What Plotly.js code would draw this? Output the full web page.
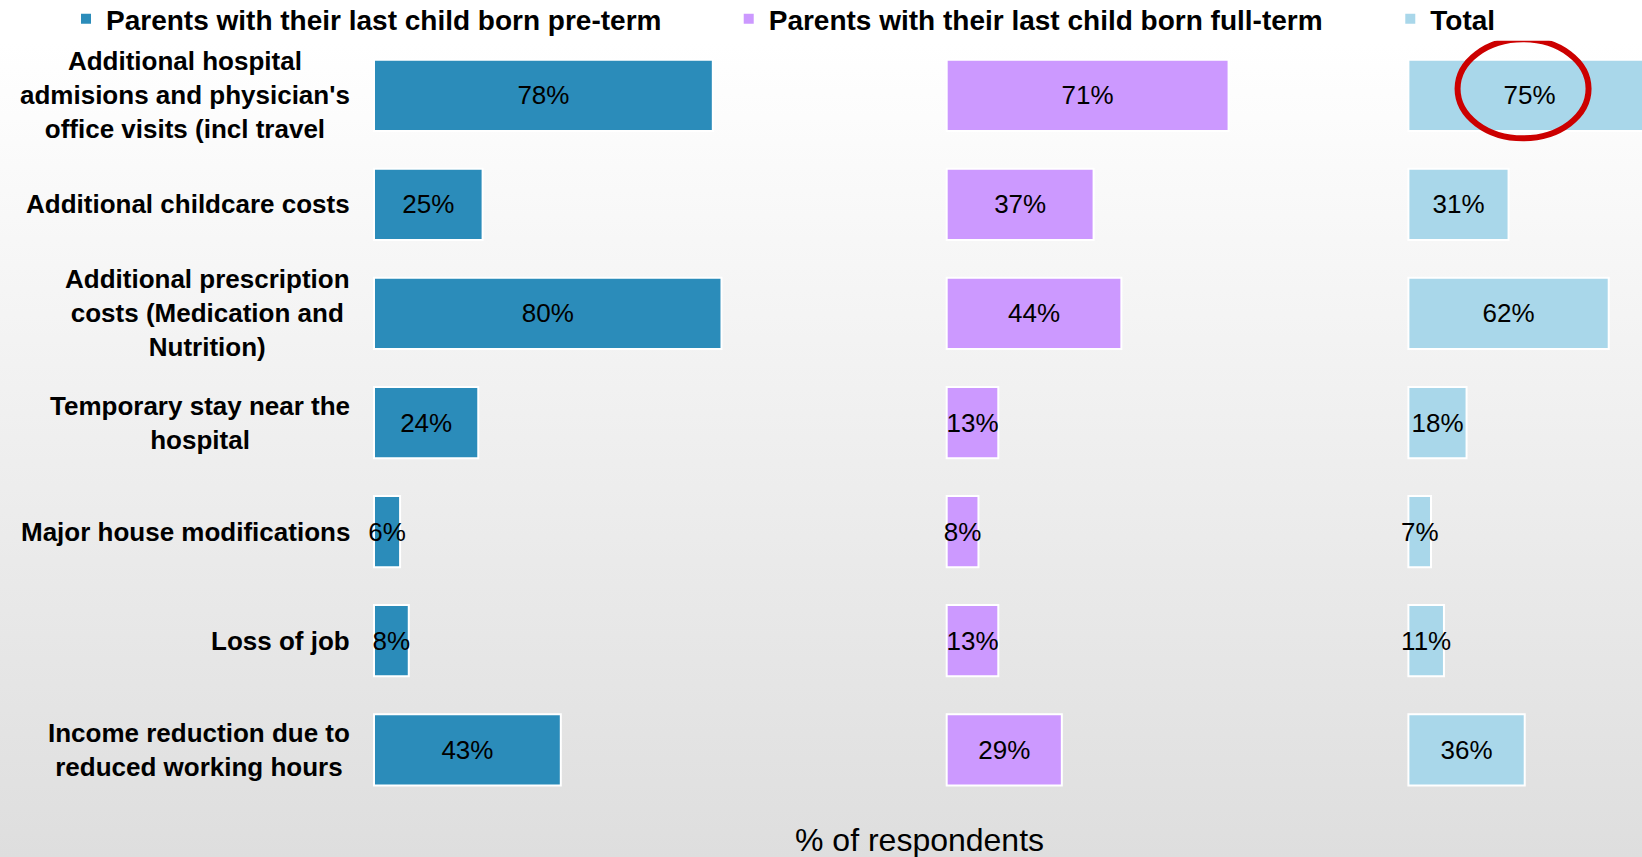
<!DOCTYPE html>
<html>
<head>
<meta charset="utf-8">
<script src="https://cdn.plot.ly/plotly-3.0.1.min.js"></script>
<style>
  html, body { margin: 0; padding: 0; }
  body { width: 1642px; height: 857px; background: linear-gradient(to bottom, #ffffff 5%, #dedede 100%); }
  #myPlot { width: 1642px; height: 857px; }
</style>
</head>
<body>
<div id="myPlot"></div>
<script>
// rows, top to bottom
const categories = [
  "Additional hospital<br>admisions and physician's<br>office visits (incl travel",
  "Additional childcare costs",
  "Additional prescription<br>costs (Medication and<br>Nutrition)",
  "Temporary stay near the<br>hospital",
  "Major house modifications",
  "Loss of job",
  "Income reduction due to<br>reduced working hours"
];
const preTerm  = [78, 25, 80, 24, 6, 8, 43];
const fullTerm = [71, 37, 44, 13, 8, 13, 29];
const total    = [75, 31, 62, 18, 7, 11, 36];
const seriesNames = [
  "Parents with their last child born pre-term",
  "Parents with their last child born full-term",
  "Total"
];
const colors = ["#2b8cba", "#cc99ff", "#a9d7ea"];
const xTitle = "% of respondents";

const font = "Liberation Sans, Arial, sans-serif";
const values = [preTerm, fullTerm, total];
const xaxes = ["x", "x2", "x3"];
const legends = ["legend", "legend2", "legend3"];

const data = values.map((v, i) => ({
  type: "bar",
  orientation: "h",
  x: v,
  y: categories,
  xaxis: xaxes[i],
  yaxis: "y",
  name: seriesNames[i],
  legend: legends[i],
  showlegend: true,
  marker: {color: colors[i], line: {color: "#ffffff", width: 2}},
  texttemplate: "%{x}%",
  textposition: "inside",
  insidetextanchor: "middle",
  constraintext: "none",
  textangle: 0,
  textfont: {family: font, size: 26, color: "#000000"},
  insidetextfont: {family: font, size: 26, color: "#000000"},
  hoverinfo: "skip"
}));

const hidden = {showgrid: false, zeroline: false, showline: false, showticklabels: false, ticks: ""};

// row labels, lines centred, block right-aligned
const labelNotes = categories.map((c, i) => ({
  text: "<b>" + c + "</b>",
  xref: "paper", yref: "y",
  x: 0.2145, y: i,
  xanchor: "right", yanchor: "middle",
  align: "center",
  showarrow: false,
  font: {family: font, size: 26, color: "#000000"}
}));

const legendBase = {
  orientation: "h",
  xanchor: "left", yanchor: "middle",
  y: 0.9778,
  bgcolor: "rgba(0,0,0,0)",
  font: {family: font, size: 28, color: "#000000", weight: "bold"}
};

// a little room left of zero so labels on thin bars are not cut
const layout = {
  width: 1642, height: 857,
  margin: {l: 0, r: 0, t: 0, b: 0, autoexpand: false},
  showlegend: true,
  paper_bgcolor: "rgba(0,0,0,0)",
  plot_bgcolor: "rgba(0,0,0,0)",
  bargap: 0.347,
  xaxis:  Object.assign({domain: [0.21456, 0.56029], range: [-5, 125.7], anchor: "y"}, hidden),
  xaxis2: Object.assign({domain: [0.56446, 0.84653], range: [-5, 111.66], anchor: "y"}, hidden),
  xaxis3: Object.assign({domain: [0.84790, 1.0], range: [-5, 72.3], anchor: "y"}, hidden),
  yaxis:  Object.assign({domain: [0.06145, 0.95244], range: [6.5, -0.5], type: "category"}, hidden),
  legend:  Object.assign({x: 0.0402}, legendBase),
  legend2: Object.assign({x: 0.4438}, legendBase),
  legend3: Object.assign({x: 0.8467}, legendBase),
  annotations: labelNotes.concat([{
    text: xTitle,
    xref: "paper", yref: "paper",
    x: 0.56, y: 0.0198,
    xanchor: "center", yanchor: "middle",
    showarrow: false,
    font: {family: font, size: 32, color: "#000000"}
  }]),
  shapes: [{
    type: "circle",
    xref: "x3", yref: "y",
    xsizemode: "pixel", ysizemode: "pixel",
    xanchor: total[0] / 2, yanchor: 0,
    x0: -72, x1: 59, y0: -43, y1: 56,
    line: {color: "#cc0000", width: 6}
  }]
};

Plotly.newPlot("myPlot", data, layout, {displayModeBar: false});
</script>
</body>
</html>
